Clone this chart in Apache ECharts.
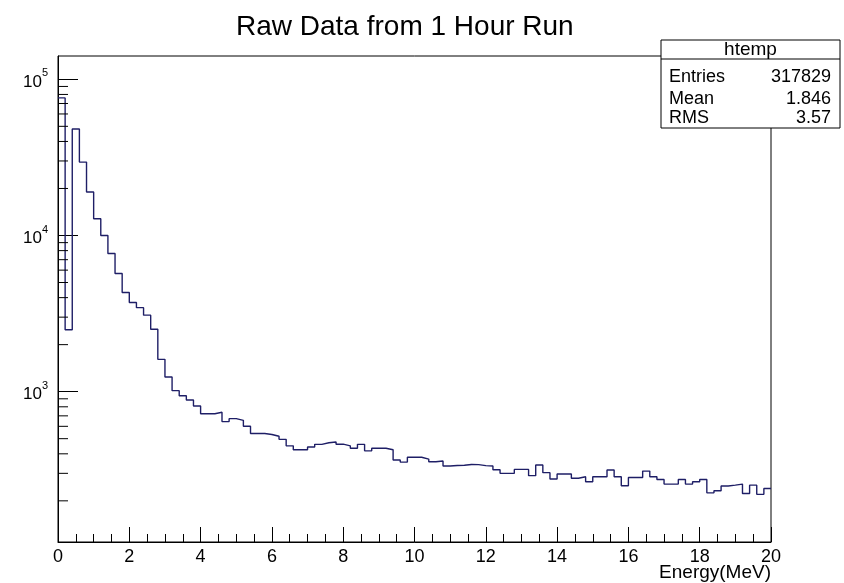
<!DOCTYPE html>
<html><head><meta charset="utf-8">
<script src="https://cdn.jsdelivr.net/npm/echarts@6/dist/echarts.min.js"></script>
<style>html,body{margin:0;padding:0;background:#fff}#c{width:844px;height:583px}</style>
</head><body><div id="c"></div>
<script>
const chartTitle = 'Raw Data from 1 Hour Run';
const xAxisName = 'Energy(MeV)';
const xMin = 0, xMax = 20, xTickStep = 2;
const binWidth = 0.2;
const yMin = 109, yMax = 141000;
const counts = [
  76000, 2490, 48100, 29500, 19000, 12800, 10000, 7670, 5710, 4310,
  3720, 3450, 3090, 2510, 1610, 1240, 1015, 942, 885, 810,
  722, 722, 738, 643, 672, 655, 600, 540, 540, 532,
  518, 495, 450, 425, 425, 442, 460, 471, 476, 461,
  450, 434, 460, 418, 434, 434, 425, 365, 354, 380,
  380, 370, 356, 360, 334, 337, 338, 342, 341, 336,
  334, 316, 300, 300, 318, 318, 290, 339, 303, 276,
  297, 297, 279, 285, 265, 285, 285, 315, 285, 250,
  282, 282, 310, 285, 274, 256, 256, 274, 256, 265,
  274, 225, 232, 249, 252, 256, 223, 252, 220, 240
];
const statsName = 'htemp';
const statsLabels = ['Entries', 'Mean', 'RMS'];
const statsValues = ['317829', '1.846', '3.57'];
const minorMantissas = [2, 3, 4, 5, 6, 7, 8, 9];
const minorDecades = [2, 3, 4];

const FONT = 'Liberation Sans, Arial, Helvetica, sans-serif';
const LINE_COLOR = '#1e1e66';

const stepData = counts.map((v, i) => [i * binWidth, v]);
stepData.push([counts.length * binWidth, counts[counts.length - 1]]);

const chart = echarts.init(document.getElementById('c'), null, {renderer: 'canvas'});
chart.setOption({
  animation: false,
  backgroundColor: '#fff',
  title: {
    text: chartTitle, left: 231, top: 8,
    textStyle: {fontFamily: FONT, fontSize: 28, fontWeight: 'normal', color: '#000'}
  },
  grid: {left: 58, right: 73, top: 56, bottom: 41, containLabel: false, outerBoundsMode: 'none',
         show: true, borderColor: '#000', borderWidth: 1, backgroundColor: 'transparent'},
  xAxis: {
    type: 'value', min: xMin, max: xMax, interval: xTickStep,
    name: xAxisName, nameLocation: 'end', nameGap: 0, nameMoveOverlap: false,
    nameTextStyle: {fontFamily: FONT, fontSize: 19, color: '#000', align: 'right', verticalAlign: 'top', padding: [21, 0, 0, 0]},
    axisLine: {lineStyle: {color: '#000', width: 1}},
    axisTick: {inside: true, length: 15, lineStyle: {color: '#000'}},
    minorTick: {show: true, splitNumber: 4, length: 8, lineStyle: {color: '#000'}},
    splitLine: {show: false},
    axisLabel: {fontFamily: FONT, fontSize: 18, color: '#000', margin: 6}
  },
  yAxis: {
    type: 'log', logBase: 10, min: yMin, max: yMax,
    axisLine: {lineStyle: {color: '#000', width: 1}},
    axisTick: {inside: true, length: 20, lineStyle: {color: '#000'}},
    splitLine: {show: false},
    axisLabel: {
      showMinLabel: false, showMaxLabel: false, margin: 10,
      formatter: function (v) {
        const e = Math.round(Math.log10(v));
        if (Math.abs(Math.log10(v) - e) > 1e-6) return '';
        return '{b|10}{s|' + e + '}';
      },
      rich: {
        b: {fontFamily: FONT, fontSize: 17, color: '#000', verticalAlign: 'bottom', padding: [6, 0, 0, 0]},
        s: {fontFamily: FONT, fontSize: 11, color: '#000', verticalAlign: 'top', padding: [0, 0, 4, 0]}
      }
    }
  },
  series: [{
    type: 'line', step: 'end', data: stepData, symbol: 'none',
    lineStyle: {color: LINE_COLOR, width: 1.4}, clip: true
  }]
});

// minor log ticks (2..9 x 10^n) positioned through the axis scale
const graphics = [];
minorDecades.forEach(d => {
  minorMantissas.forEach(m => {
    const v = m * Math.pow(10, d);
    if (v <= yMin || v >= yMax) return;
    const p = chart.convertToPixel({gridIndex: 0}, [0, v]);
    graphics.push({type: 'line', shape: {x1: p[0], y1: p[1], x2: p[0] + 10, y2: p[1]}, style: {stroke: '#000', lineWidth: 1}, z: 50});
  });
});

// statistics box
const bx = 661, by = 40, bw = 179, bh = 88;
graphics.push({type: 'rect', shape: {x: bx, y: by, width: bw, height: bh}, style: {fill: '#fff', stroke: '#000', lineWidth: 1}, z: 100});
graphics.push({type: 'line', shape: {x1: bx, y1: 59, x2: bx + bw, y2: 59}, style: {stroke: '#000', lineWidth: 1}, z: 101});
graphics.push({type: 'text', x: bx + bw / 2, y: 50, style: {text: statsName, font: '19px ' + FONT, fill: '#000', textAlign: 'center', textVerticalAlign: 'middle'}, z: 101});
const rowY = [77, 99, 118];
statsLabels.forEach((lab, i) => {
  graphics.push({type: 'text', x: 669, y: rowY[i], style: {text: lab, font: '18px ' + FONT, fill: '#000', textAlign: 'left', textVerticalAlign: 'middle'}, z: 101});
  graphics.push({type: 'text', x: 831, y: rowY[i], style: {text: statsValues[i], font: '18px ' + FONT, fill: '#000', textAlign: 'right', textVerticalAlign: 'middle'}, z: 101});
});
chart.setOption({graphic: graphics});
</script></body></html>
